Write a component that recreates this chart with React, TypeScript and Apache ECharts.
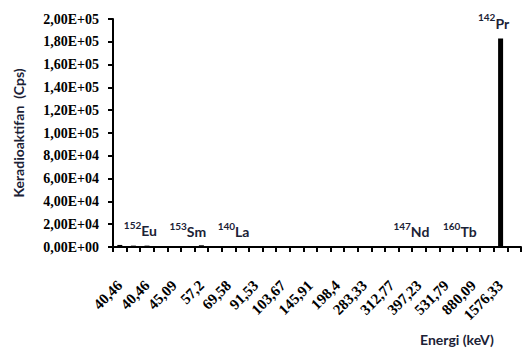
import React, { useEffect, useRef } from "react";
import * as echarts from "echarts";

// Energy labels printed under every second category of the spectrum
const energyLabels = [
  "40,46", "40,46", "45,09", "57,2", "69,58", "91,53", "103,67", "145,91",
  "198,4", "283,33", "312,77", "397,23", "531,79", "880,09", "1576,33",
];

// Count rate (Cps) per energy channel
const counts = [
  1800, 1200, 1200, 300, 200, 250, 1500, 200, 150, 200, 150, 100, 150, 120, 100,
  100, 80, 100, 90, 80, 120, 100, 80, 90, 100, 80, 60, 70, 183000, 60,
];

// Isotope identified at a channel: mass number, element, channel index
const isotopes = [
  { mass: "152", el: "Eu", at: 1 },
  { mass: "153", el: "Sm", at: 5 },
  { mass: "140", el: "La", at: 8 },
  { mass: "147", el: "Nd", at: 21 },
  { mass: "160", el: "Tb", at: 25 },
  { mass: "142", el: "Pr", at: 28 },
];
const labelNudge = [7, 0, 5, 6, 0, -7];

const yMin = 0;
const yMax = 200000;
const yStep = 20000;

const categories = counts.map((_, i) => (i % 2 === 0 ? energyLabels[i / 2] : ""));

function sci(v: number): string {
  if (v === 0) return "0,00E+00";
  const exp = Math.floor(Math.log10(v) + 1e-9);
  const mant = v / Math.pow(10, exp);
  return mant.toFixed(2).replace(".", ",") + "E+" + String(exp).padStart(2, "0");
}

const ink = "#000000";
const navy = "#1b2236";
const serif = "'Liberation Serif', 'Times New Roman', 'DejaVu Serif', serif";

export default function App() {
  const ref = useRef<HTMLDivElement>(null);

  useEffect(() => {
    if (!ref.current) return;
    const chart = echarts.init(ref.current, undefined, { renderer: "svg" });
    chart.setOption({
      animation: false,
      backgroundColor: "#ffffff",
      grid: { left: 113, right: 8, top: 19, bottom: 105, containLabel: false },
      title: {
        text: "Energi (keV)",
        left: 415,
        top: 327,
        textStyle: { fontFamily: "Lato", fontWeight: "bold", fontSize: 14, color: navy },
      },
      xAxis: {
        type: "category",
        data: categories,
        axisLine: { lineStyle: { color: ink, width: 2 } },
        axisTick: { show: true, interval: 0, length: 5, lineStyle: { color: ink, width: 2 } },
        axisLabel: {
          interval: 1,
          rotate: 45,
          margin: 36,
          color: ink,
          fontFamily: serif,
          fontWeight: "bold",
          fontSize: 15,
        },
        splitLine: { show: false },
      },
      yAxis: {
        type: "value",
        min: yMin,
        max: yMax,
        interval: yStep,
        name: "Keradioaktifan  (Cps)",
        nameLocation: "middle",
        nameRotate: 90,
        nameGap: 88,
        nameTextStyle: { fontFamily: "Lato", fontWeight: "bold", fontSize: 14, color: navy },
        axisLine: { show: true, lineStyle: { color: ink, width: 2 } },
        axisTick: { show: true, length: 5, lineStyle: { color: ink, width: 2 } },
        axisLabel: {
          formatter: (v: number) => sci(v),
          margin: 14,
          color: ink,
          fontFamily: serif,
          fontWeight: "bold",
          fontSize: 14,
        },
        splitLine: { show: false },
      },
      series: [
        {
          type: "bar",
          data: counts,
          barWidth: 5,
          itemStyle: { color: ink },
          markPoint: {
            symbol: "circle",
            symbolSize: 0,
            data: isotopes.map((iso, k) => ({
              coord: [iso.at, counts[iso.at]],
              label: {
                show: true,
                position: "top",
                distance: 0,
                offset: [labelNudge[k], -8],
                formatter: `{m|${iso.mass}}{e|${iso.el}}`,
              },
            })),
            label: {
              rich: {
                m: {
                  fontFamily: "Lato",
                  fontWeight: "bold",
                  fontSize: 10,
                  color: navy,
                  verticalAlign: "top",
                  lineHeight: 12,
                },
                e: {
                  fontFamily: "Lato",
                  fontWeight: "bold",
                  fontSize: 14,
                  color: navy,
                  verticalAlign: "bottom",
                  lineHeight: 18,
                },
              },
            },
          },
        },
      ],
    });
    return () => chart.dispose();
  }, []);

  return (
    <div
      ref={ref}
      style={{ position: "fixed", left: 0, top: 0, width: 529, height: 352 }}
    />
  );
}
